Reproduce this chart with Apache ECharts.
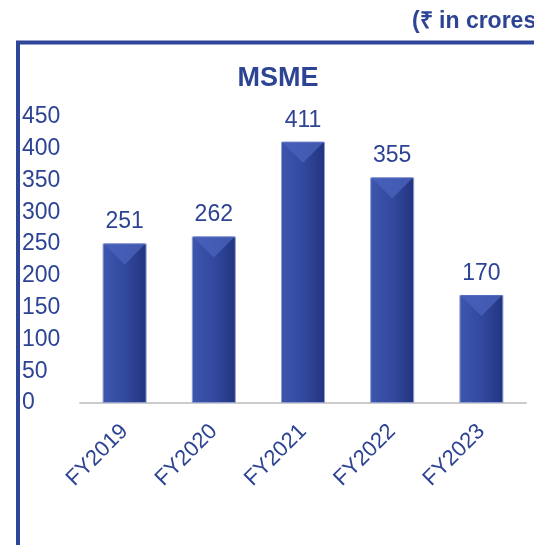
<!DOCTYPE html>
<html>
<head>
<meta charset="utf-8">
<script src="https://cdn.jsdelivr.net/npm/echarts@6/dist/echarts.min.js"></script>
<style>
  html, body { margin: 0; padding: 0; background: #fff; }
  #chart { width: 534px; height: 545px; }
</style>
</head>
<body>
<div id="chart"></div>
<script>
// MSME, ₹ in crores
var years = ['FY2019', 'FY2020', 'FY2021', 'FY2022', 'FY2023'];
var msme = [251, 262, 411, 355, 170];

var blue = '#2D4393';
var font = 'Liberation Sans, Arial, sans-serif';

var chart = echarts.init(document.getElementById('chart'));

var option = {
    backgroundColor: '#fff',
    animation: false,
    graphic: [
        // frame, runs off the right and bottom edge
        {
            type: 'rect',
            shape: {x: 18, y: 42.5, width: 700, height: 700},
            style: {fill: 'none', stroke: '#2E4598', lineWidth: 4}
        },
        {
            type: 'text',
            left: 412,
            top: 10,
            style: {
                text: '(₹ in crores)',
                fill: blue,
                font: 'bold 23px ' + font
            }
        }
    ],
    title: {
        text: 'MSME',
        left: 273,
        top: 60,
        textAlign: 'center',
        textStyle: {color: blue, fontSize: 27, fontWeight: 'bold', fontFamily: font}
    },
    grid: {left: 80, right: 8, top: 117, bottom: 142},
    xAxis: {
        type: 'category',
        data: years,
        axisLine: {lineStyle: {color: '#CCCCCC', width: 2}},
        axisTick: {show: false},
        axisLabel: {
            rotate: 45,
            margin: 25,
            color: blue,
            fontSize: 22,
            fontFamily: font
        }
    },
    yAxis: {
        type: 'value',
        min: 0,
        max: 450,
        interval: 50,
        splitLine: {show: false},
        axisLine: {show: false},
        axisTick: {show: false},
        axisLabel: {
            align: 'left',
            margin: 58,
            color: blue,
            fontSize: 23,
            fontFamily: font
        }
    },
    series: [
        {
            type: 'bar',
            data: msme,
            barWidth: 44,
            itemStyle: {
                color: new echarts.graphic.LinearGradient(0, 0, 1, 0, [
                    {offset: 0, color: '#3E56AE'},
                    {offset: 0.5, color: '#33499F'},
                    {offset: 1, color: '#22347E'}
                ]),
                borderColor: '#8F9DD0',
                borderWidth: 1
            },
            label: {
                show: true,
                position: 'top',
                distance: 10,
                color: blue,
                fontSize: 23,
                fontFamily: font
            },
            z: 2
        },
        {
            // lighter bevel on top of each bar
            type: 'pictorialBar',
            data: msme,
            symbol: 'path://M0,0 L10,0 L5,5 Z',
            symbolSize: [42, 21],
            symbolPosition: 'end',
            symbolOffset: [0, 0],
            itemStyle: {color: '#4A62BA', opacity: 0.8},
            silent: true,
            z: 3
        }
    ]
};

chart.setOption(option);
</script>
</body>
</html>
